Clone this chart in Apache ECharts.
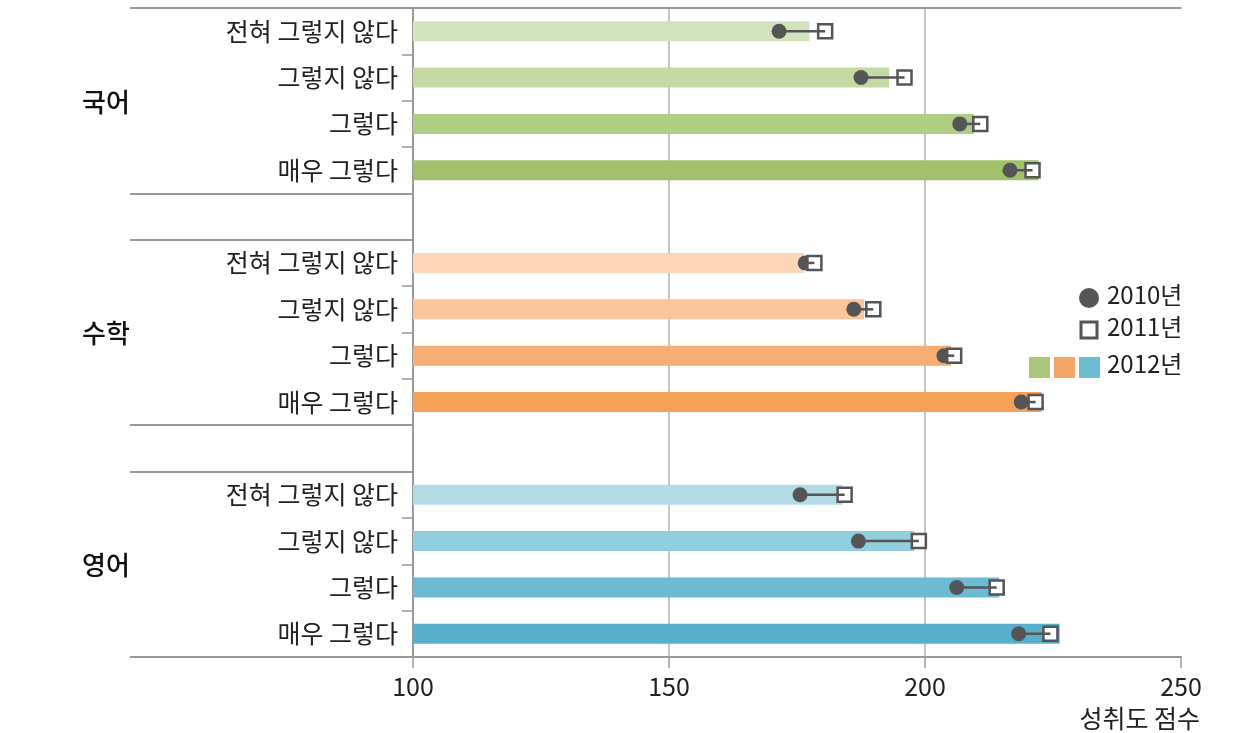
<!DOCTYPE html>
<html><head><meta charset="utf-8">
<script src="https://cdn.jsdelivr.net/npm/echarts@6/dist/echarts.min.js"></script>
<style>html,body{margin:0;padding:0;background:#fff}#c{width:1240px;height:733px}</style>
</head><body><div id="c"></div>
<script>
// ---- data ----
const subjects = ['국어', '수학', '영어'];
const responses = ['전혀 그렇지 않다', '그렇지 않다', '그렇다', '매우 그렇다'];
const kor2012 = [177.4, 193.0, 209.5, 222.2];
const kor2010 = [171.5, 187.5, 206.8, 216.6];
const kor2011 = [180.5, 196.0, 210.8, 221.0];
const math2012 = [176.4, 188.1, 205.1, 222.8];
const math2010 = [176.6, 186.1, 203.7, 218.8];
const math2011 = [178.4, 189.9, 205.7, 221.6];
const eng2012 = [183.9, 197.9, 214.5, 226.3];
const eng2010 = [175.6, 187.0, 206.2, 218.3];
const eng2011 = [184.3, 198.8, 214.0, 224.5];
const xTicks = [100, 150, 200, 250];
const years = ['2010년', '2011년', '2012년'];

const greens = ['#d3e3bd', '#c4d9a3', '#b0cd84', '#a1c26a'];
const oranges = ['#fdd5b7', '#fac59b', '#f8ad72', '#f6a05a'];
const blues = ['#b3dbe5', '#93cede', '#6bbbd2', '#57afca'];

const groups = [
  {v12: kor2012, v10: kor2010, v11: kor2011, col: greens},
  {v12: math2012, v10: math2010, v11: math2011, col: oranges},
  {v12: eng2012, v10: eng2010, v11: eng2011, col: blues}
];
const cats = [], barData = [], d10 = [], d11 = [], links = [];
const groupStart = [];
groups.forEach((g, gi) => {
  if (gi > 0) { cats.push('gap' + gi); barData.push('-'); }
  groupStart.push(cats.length);
  responses.forEach((r, ri) => {
    const idx = cats.length;
    cats.push(r + '#' + gi);
    barData.push({value: g.v12[ri], itemStyle: {color: g.col[ri]}});
    d10.push([g.v10[ri], idx]);
    d11.push([g.v11[ri], idx]);
    links.push([g.v10[ri], g.v11[ri], idx]);
  });
});
const longTicks = new Set();
groupStart.forEach(s => longTicks.add(s));
cats.forEach((c, i) => { if (c.startsWith('gap')) longTicks.add(i); });

const FONT = '"Noto Sans CJK KR", "Noto Sans", sans-serif';
const AX = '#9a9a9a';
const DARK = '#555558';

const chart = echarts.init(document.getElementById('c'));
const yCommon = {
  type: 'category', data: cats, inverse: true, position: 'left',
  boundaryGap: true
};
chart.setOption({
  animation: false,
  textStyle: {fontFamily: FONT},
  grid: {left: 413, right: 59, top: 8, bottom: 76, containLabel: false},
  xAxis: [{
    type: 'value', min: 100, max: 250, interval: 50, position: 'bottom',
    axisLine: {show: true, lineStyle: {color: AX, width: 2}},
    axisTick: {show: true, length: 11, lineStyle: {color: AX, width: 1.5}},
    axisLabel: {fontSize: 25, color: '#222', margin: 17, fontFamily: FONT,
      formatter: v => xTicks.includes(v) ? String(v) : ''},
    splitLine: {show: true, lineStyle: {color: [AX, '#b4b4b4', '#b4b4b4', 'rgba(0,0,0,0)'], width: 1.5}},
    name: '성취도 점수', nameLocation: 'end', nameGap: 0,
    nameTextStyle: {fontSize: 25, color: '#222', align: 'right', verticalAlign: 'top', padding: [49, -19, 0, 0], fontFamily: FONT}
  }, {
    type: 'value', min: 100, max: 250, position: 'top',
    axisLine: {show: true, lineStyle: {color: AX, width: 2}},
    axisTick: {show: false}, axisLabel: {show: false}, splitLine: {show: false}
  }],
  yAxis: [Object.assign({}, yCommon, {
    axisLine: {show: true, lineStyle: {color: AX, width: 2}},
    axisTick: {show: true, length: 11, lineStyle: {color: AX, width: 1.5},
      interval: (i) => !longTicks.has(i) && !cats[i].startsWith('gap')},
    axisLabel: {fontSize: 25, color: '#222', margin: 15, fontFamily: FONT,
      formatter: v => v.startsWith('gap') ? '' : v.split('#')[0]}
  }), Object.assign({}, yCommon, {
    axisLine: {show: false},
    axisTick: {show: true, length: 283, lineStyle: {color: AX, width: 2},
      interval: (i) => longTicks.has(i)},
    axisLabel: {show: false}
  })],
  series: [{
    type: 'bar', data: barData, barWidth: 20, xAxisIndex: 0, yAxisIndex: 0,
    clip: true, z: 2
  }, {
    type: 'scatter', name: years[0], data: d10, symbol: 'circle', symbolSize: 15,
    itemStyle: {color: DARK, opacity: 1}, z: 4
  }, {
    type: 'scatter', name: years[1], data: d11, symbol: 'rect', symbolSize: 14,
    itemStyle: {color: '#fff', borderColor: DARK, borderWidth: 2.5, opacity: 1}, z: 5
  }, {
    type: 'custom', data: links, z: 6,
    renderItem: (params, api) => {
      const a = api.coord([api.value(0), api.value(2)]);
      const b = api.coord([api.value(1), api.value(2)]);
      return {type: 'line', shape: {x1: a[0], y1: a[1], x2: b[0], y2: b[1]},
        style: {stroke: DARK, lineWidth: 2.5}};
    }
  }]
});

// group labels & legend
const gfx = [];
groupStart.forEach((s, gi) => {
  const p = chart.convertToPixel({yAxisIndex: 0}, cats[s + 1]);
  const q = chart.convertToPixel({yAxisIndex: 0}, cats[s + 2]);
  gfx.push({type: 'text', left: 82, top: (p + q) / 2 - 12,
    style: {text: subjects[gi], font: '500 26px ' + FONT, fill: '#111'}});
});
const lx = 1107;
gfx.push({type: 'circle', shape: {cx: 1089, cy: 298, r: 10}, style: {fill: DARK}});
gfx.push({type: 'text', left: lx, top: 283, style: {text: years[0], font: '24px ' + FONT, fill: '#222'}});
gfx.push({type: 'rect', shape: {x: 1081, y: 322, width: 16, height: 16}, style: {fill: '#fff', stroke: DARK, lineWidth: 3}});
gfx.push({type: 'text', left: lx, top: 315, style: {text: years[1], font: '24px ' + FONT, fill: '#222'}});
['#a9c87a', '#f7a66a', '#6bbdd3'].forEach((c, i) => {
  gfx.push({type: 'rect', shape: {x: 1029 + i * 25, y: 357, width: 21, height: 21}, style: {fill: c}});
});
gfx.push({type: 'text', left: lx, top: 352, style: {text: years[2], font: '24px ' + FONT, fill: '#222'}});
chart.setOption({graphic: gfx});
</script>
</body></html>
